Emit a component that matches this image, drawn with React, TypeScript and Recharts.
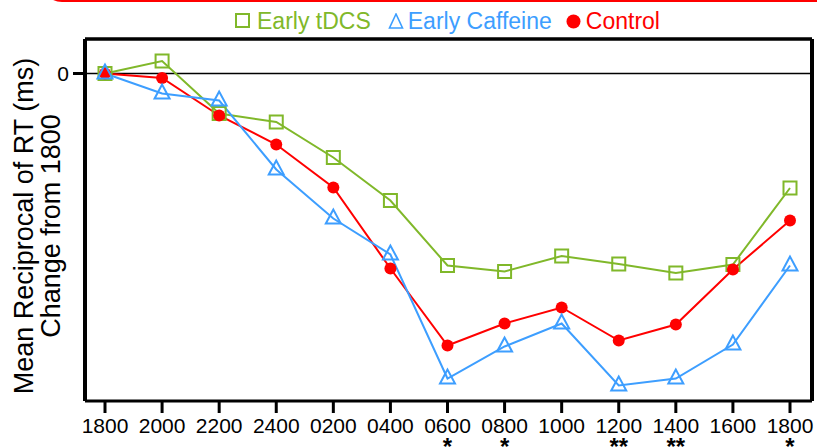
import { LineChart, Line, XAxis, YAxis, Legend, ReferenceLine } from "recharts"

const times = ['1800', '2000', '2200', '2400', '0200', '0400', '0600', '0800', '1000', '1200', '1400', '1600', '1800']
const stars = ['', '', '', '', '', '', '*', '*', '', '**', '**', '', '*']
const earlyTdcs = [0, 1.25, -4.0, -4.85, -8.4, -12.7, -19.2, -19.8, -18.25, -19.05, -19.95, -19.1, -11.45]
const earlyCaffeine = [0, -2.0, -2.7, -9.6, -14.5, -18.1, -30.5, -27.3, -25.0, -31.2, -30.5, -27.1, -19.2]
const control = [0, -0.45, -4.2, -7.1, -11.4, -19.5, -27.2, -25.0, -23.4, -26.7, -25.1, -19.6, -14.7]

const GREEN = '#80b82a'
const BLUE = '#3d9eff'
const RED = '#ff0000'
const FONT = 'Liberation Sans, Arial, sans-serif'

const data = times.map((t, i) => ({
  time: t,
  tdcs: earlyTdcs[i],
  caffeine: earlyCaffeine[i],
  control: control[i],
}))

const XTick = ({ x, y, payload, index }) => (
  <g>
    <text x={x} y={y} dy={18} textAnchor="middle" fontSize={21} fontFamily={FONT} fill="#000">
      {payload.value}
    </text>
    {stars[index] ? (
      <text x={x} y={455} textAnchor="middle" fontSize={24} fontWeight="bold" fontFamily={FONT} fill="#000">
        {stars[index]}
      </text>
    ) : null}
  </g>
)

const SquareDot = ({ cx, cy, index }) => (
  <rect key={`sq-${index}`} x={cx - 6.5} y={cy - 6.5} width={13} height={13} fill="none" stroke={GREEN} strokeWidth={2} />
)

const TriangleDot = ({ cx, cy, index }) => (
  <path key={`tr-${index}`} d={`M${cx},${cy - 9} L${cx - 7.5},${cy + 5} L${cx + 7.5},${cy + 5} Z`} fill="none" stroke={BLUE} strokeWidth={2} />
)

const CircleDot = ({ cx, cy, index }) => (
  <circle key={`ci-${index}`} cx={cx} cy={cy} r={6} fill={RED} stroke="none" />
)

const YLabel = () => (
  <g fontFamily={FONT} fontSize={27} fill="#000">
    <text x={33} y={226} textAnchor="middle" transform="rotate(-90, 33, 226)">Mean Reciprocal of RT (ms)</text>
    <text x={60} y={226} textAnchor="middle" transform="rotate(-90, 60, 226)">Change from 1800</text>
  </g>
)

const LegendBox = () => (
  <div style={{ display: 'flex', alignItems: 'center', fontFamily: FONT, fontSize: 23, lineHeight: '26px', whiteSpace: 'nowrap' }}>
    <svg width={16} height={16} style={{ marginRight: 6 }}>
      <rect x={1} y={1} width={13} height={13} fill="none" stroke={GREEN} strokeWidth={2} />
    </svg>
    <span style={{ color: GREEN }}>Early tDCS</span>
    <svg width={16} height={16} style={{ marginLeft: 17, marginRight: 4 }}>
      <path d="M8,1 L1.5,15 L14.5,15 Z" fill="none" stroke={BLUE} strokeWidth={1.6} />
    </svg>
    <span style={{ color: BLUE }}>Early Caffeine</span>
    <svg width={15} height={15} style={{ marginLeft: 14, marginRight: 5 }}>
      <circle cx={7.5} cy={7.5} r={7} fill={RED} />
    </svg>
    <span style={{ color: RED }}>Control</span>
  </div>
)

export default function App() {
  return (
    <div style={{ position: 'absolute', left: 0, top: 0, width: 817, height: 448, overflow: 'hidden', background: '#fff' }}>
      <div style={{ position: 'absolute', left: 42, top: -58, width: 850, height: 60, boxSizing: 'border-box', border: `3px solid ${RED}`, borderRadius: 20 }} />
      <LineChart width={817} height={448} data={data} margin={{ top: 38, right: 4, bottom: 0, left: 0 }}>
        <XAxis
          xAxisId="bottom"
          dataKey="time"
          height={47}
          interval={0}
          tickSize={12}
          padding={{ left: 20, right: 22 }}
          axisLine={{ stroke: '#000', strokeWidth: 3 }}
          tickLine={{ stroke: '#000', strokeWidth: 3 }}
          tick={<XTick />}
        />
        <XAxis
          xAxisId="top"
          orientation="top"
          dataKey="time"
          height={1}
          tick={false}
          tickLine={false}
          axisLine={{ stroke: '#000', strokeWidth: 3 }}
        />
        <YAxis
          yAxisId="left"
          width={85}
          domain={[-32.75, 3.45]}
          ticks={[0]}
          tickSize={12}
          tickMargin={4}
          axisLine={{ stroke: '#000', strokeWidth: 4 }}
          tickLine={{ stroke: '#000', strokeWidth: 3 }}
          tick={{ fontSize: 21, fill: '#000', fontFamily: FONT }}
          label={<YLabel />}
        />
        <YAxis
          yAxisId="right"
          orientation="right"
          width={1}
          domain={[-32.75, 3.45]}
          tick={false}
          tickLine={false}
          axisLine={{ stroke: '#000', strokeWidth: 4 }}
        />
        <ReferenceLine xAxisId="bottom" yAxisId="left" y={0} stroke="#000" strokeWidth={1.5} />
        <ReferenceLine xAxisId="bottom" yAxisId="left" y={3.45} stroke="#000" strokeWidth={3} />
        <Legend
          verticalAlign="middle"
          align="center"
          content={<LegendBox />}
          wrapperStyle={{ top: 8, left: 235, width: 460, height: 26 }}
        />
        <Line xAxisId="bottom" yAxisId="left" dataKey="tdcs" name="Early tDCS" stroke={GREEN} strokeWidth={2} dot={<SquareDot />} isAnimationActive={false} />
        <Line xAxisId="bottom" yAxisId="left" dataKey="control" name="Control" stroke={RED} strokeWidth={2} dot={<CircleDot />} isAnimationActive={false} />
        <Line xAxisId="bottom" yAxisId="left" dataKey="caffeine" name="Early Caffeine" stroke={BLUE} strokeWidth={2} dot={<TriangleDot />} isAnimationActive={false} />
      </LineChart>
    </div>
  )
}
